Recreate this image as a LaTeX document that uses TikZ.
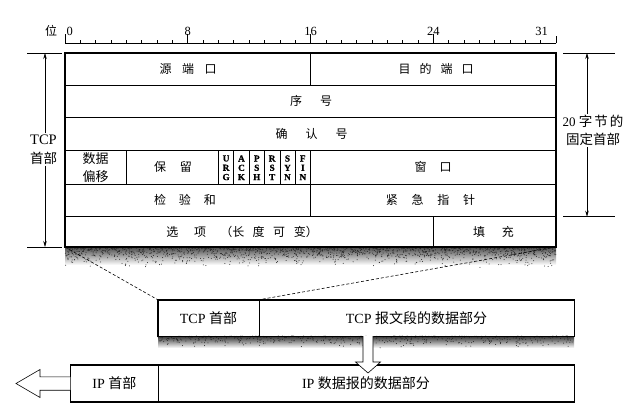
\documentclass[tikz,border=0pt]{standalone}
\usepackage{fontspec}
\setmainfont{Liberation Serif}
\newfontfamily\cjk{Noto Sans CJK SC}
\newfontfamily\flagfont[BoldFeatures = {FakeBold = 1}]{Liberation Serif}
\usetikzlibrary{arrows.meta}

\newcommand{\zh}[1]{{\cjk #1}}
\newcommand{\zs}[1]{\hspace{#1}}

\begin{document}
\begin{tikzpicture}[x = 1pt, y = -1pt,
    lbl/.style = {font = \cjk\fontsize{12}{14}\selectfont, inner sep = 0pt},
    num/.style = {font = \fontsize{12.5}{14}\selectfont, inner sep = 0pt},
    flag/.style = {font = \flagfont\bfseries\fontsize{9.2}{9.3}\selectfont, align = center, inner sep = 0pt},
    side/.style = {font = \fontsize{14.5}{18}\selectfont, align = center, inner sep = 1pt},
    seg/.style = {draw, line width = 0.6pt, minimum height = 36pt, inner sep = 0pt, font = \fontsize{14}{16}\selectfont},
    dim/.style = {-{Stealth[length = 6pt, width = 3.5pt]}, line width = 0.6pt},
    cell/.style = {line width = 0.6pt},
    frame/.style = {line width = 1.4pt}]
    \useasboundingbox (0,0) rectangle (631,417);

    % shadows
    \shade[top color = black!70, bottom color = white] (65,247) rectangle (556,265);
    \shade[top color = black!80, bottom color = white] (158,336) rectangle (574,348);
    \pgfmathsetseed{11}
    \foreach \i in {1,...,1800} {
        \pgfmathsetmacro\sx{65+491*rnd}
        \pgfmathsetmacro\sy{247+21*rnd*rnd}
        \fill[black!85] (\sx,\sy) circle (0.5);
    }
    \foreach \i in {1,...,600} {
        \pgfmathsetmacro\sx{158+416*rnd}
        \pgfmathsetmacro\sy{336+12*rnd*rnd}
        \fill[black!85] (\sx,\sy) circle (0.5);
    }

    % bit ruler
    \draw[cell] (65,43.5) -- (556,43.5);
    \foreach \i in {0,...,31}
        \draw[cell] (65+\i*15.344,43.5) -- ++(0,-3);
    \foreach \i in {0,8,16,24}
        \draw[cell] (65+\i*15.344,43.5) -- ++(0,-9);
    \draw[cell] (556,43.5) -- ++(0,-7);
    \node[lbl] (wei) at (51,31) {位};
    \node[num, anchor = west] (b0) at (66.5,31) {0};
    \node[num] (b8) at (187.8,31) {8};
    \node[num] (b16) at (310.5,31) {16};
    \node[num] (b24) at (433.3,31) {24};
    \node[num] (b31) at (541.5,31) {31};

    % header fields
    \foreach \y in {85,117.7,150.7,184,216.7}
        \draw[cell] (65,\y) -- (556,\y);
    \draw[cell] (310.5,53) -- (310.5,85);
    \draw[cell] (310.5,150.7) -- (310.5,216.7);
    \foreach \i in {4,10,11,...,15}
        \draw[cell] (65+\i*15.344,150.7) -- (65+\i*15.344,184);
    \draw[cell] (433.3,216.7) -- (433.3,247);
    \draw[frame] (65,53) rectangle (556,247);
    \coordinate (hdrSW) at (65,247);
    \coordinate (hdrSE) at (556,247);

    \node[lbl] (srcport) at (188,69) {源\zs{10.5pt}端\zs{10.5pt}口};
    \node[lbl] (dstport) at (436,69) {目\zs{9pt}的\zs{9pt}端\zs{9pt}口};
    \node[lbl] (seqno) at (311,101.3) {序\zs{18pt}号};
    \node[lbl] (ackno) at (311.5,134.2) {确\zs{18pt}认\zs{18pt}号};
    \node[lbl, align = center, font = \cjk\fontsize{13}{17.5}\selectfont] (offset) at (95.7,167.7) {数据\\偏移};
    \node[lbl] (reserved) at (173,167.3) {保\zs{14pt}留};
    \foreach \f [count = \k from 0] in {{U\\R\\G},{A\\C\\K},{P\\S\\H},{R\\S\\T},{S\\Y\\N},{F\\I\\N}}
        \node[flag] (flag\k) at (226.1+\k*15.344,167.8) {\f};
    \node[lbl] (window) at (433,167.3) {窗\zs{13pt}口};
    \node[lbl] (checksum) at (185,200.3) {检\zs{13pt}验\zs{13pt}和};
    \node[lbl] (urgent) at (430.5,200.3) {紧\zs{13.7pt}急\zs{13.7pt}指\zs{13.7pt}针};
    \node[lbl] (options) at (242,232) {选\zs{16pt}项\zs{14pt}（长\zs{8.5pt}度\zs{8.5pt}可\zs{8.5pt}变）};
    \node[lbl] (padding) at (493.5,232) {填\zs{16.7pt}充};

    % size marks
    \draw[cell] (27,53) -- (62,53) (27,247) -- (62,247);
    \node[side, font = \fontsize{14.5}{19}\selectfont] (tcphdr) at (43.5,149.5) {TCP\\\zh{\fontsize{13.5}{19}\selectfont 首部}};
    \coordinate (lt) at (45,53);
    \coordinate (lb) at (45,247);
    \draw[dim] (tcphdr.north -| lt) -- (lt);
    \draw[dim] (tcphdr.south -| lb) -- (lb);

    \draw[cell] (563,53) -- (615,53) (563,216.7) -- (615,216.7);
    \node[side, font = \fontsize{13}{17.6}\selectfont] (fixed) at (593,130.5) {20 \zh{\fontsize{13.5}{17.6}\selectfont 字\zs{2pt}节\zs{2pt}的}\\\zh{\fontsize{13.5}{17.6}\selectfont 固定首部}};
    \coordinate (rt) at (587,53);
    \coordinate (rb) at (587,216.7);
    \draw[dim] (fixed.north -| rt) -- (rt);
    \draw[dim] (fixed.south -| rb) -- (rb);

    % TCP segment
    \node[seg, minimum width = 101pt] (tcph) at (208.5,318) {TCP \zh{首部}};
    \node[seg, minimum width = 315pt] (tcpd) at (416.5,318) {TCP \zh{报文段的数据部分}};
    \draw[frame] (tcph.north west) rectangle (tcpd.south east);
    \draw[cell, dashed, dash pattern = on 3pt off 2pt] (hdrSW) -- (tcph.north west);
    \draw[cell, dashed, dash pattern = on 3pt off 2pt] (hdrSE) -- (tcph.north east);

    % IP datagram
    \node[seg, minimum width = 87.3pt, minimum height = 36.7pt] (iph) at (114.4,383.5) {IP \zh{首部}};
    \node[seg, minimum width = 416pt, minimum height = 36.7pt] (ipd) at (366,383.5) {IP \zh{数据报的数据部分}};
    \draw[frame] (iph.north west) rectangle (ipd.south east);

    % hollow arrows
    \draw[cell, fill = white] (363,336) -- (363,362) -- (355.5,362) -- (368,373) -- (380.5,362) -- (373,362) -- (373,336);
    \draw[cell, fill = white] (iph.west) ++(0,-6.7) -- (40,376.8) -- (40,369.5) -- (16,383.5) -- (40,397.5) -- (40,390.2) -- ([yshift = -6.7pt]iph.west);
\end{tikzpicture}
\end{document}
